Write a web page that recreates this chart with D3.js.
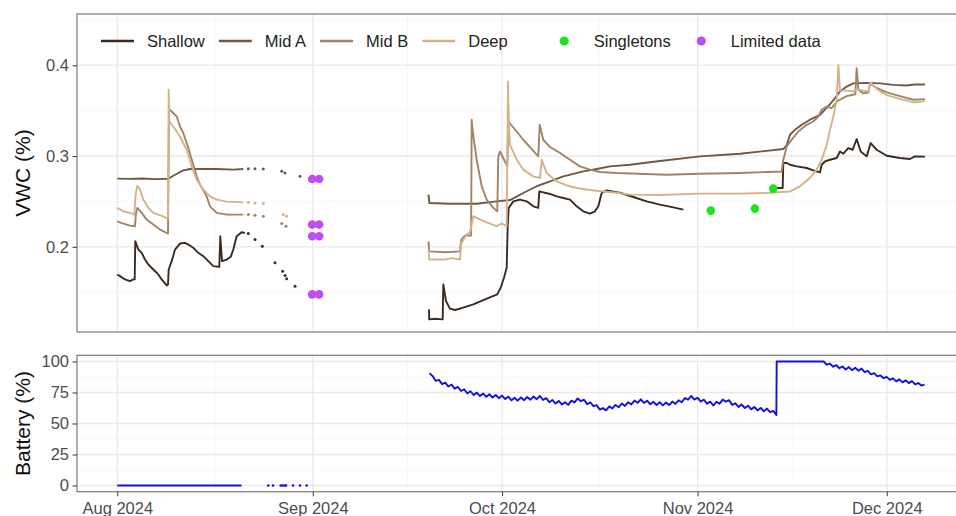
<!DOCTYPE html>
<html>
<head>
<meta charset="utf-8">
<script src="https://cdn.jsdelivr.net/npm/d3@7"></script>
<style>
  body { margin: 0; background: #fff; }
  svg { display: block; }
  text { font-family: "Liberation Sans", Arial, Helvetica, sans-serif; }
</style>
</head>
<body>
<svg id="chart" width="956" height="516"></svg>
<script>
// ---- Data: [day since 2024-08-01, value] ----
const seriesNames = ["Shallow", "Mid A", "Mid B", "Deep"];
const seriesColors = ["#3a2a1f", "#6e5945", "#a08466", "#d3b48a"];
const monthTicks = ["2024-08-01", "2024-09-01", "2024-10-01", "2024-11-01", "2024-12-01"];
const vwcTicks = [0.2, 0.3, 0.4];
const batteryTicks = [0, 25, 50, 75, 100];

const shallowAug = [[0,0.1696],[0.43,0.1677],[1.22,0.1641],[2.01,0.1622],[2.54,0.1641],[2.76,0.1641],[2.85,0.2062],[3.33,0.197],[3.87,0.1934],[4.39,0.186],[4.92,0.1805],[5.71,0.175],[6.5,0.1696],[7.04,0.1641],[7.83,0.1575],[8.04,0.1586],[8.15,0.175],[8.62,0.1842],[9.15,0.197],[9.94,0.2036],[10.73,0.2044],[11.26,0.2025],[12.05,0.1989],[12.84,0.1934],[13.64,0.1897],[14.43,0.1842],[15.22,0.1787],[16.17,0.178],[16.33,0.2117],[16.6,0.1842],[17.35,0.186],[17.98,0.189],[18.39,0.197],[18.93,0.2117],[19.72,0.216],[20.25,0.2154]];
const shallowSparse = [[20.77,0.2146],[21.83,0.208],[22.99,0.2007],[25.0,0.1824],[26.22,0.1732],[26.6,0.1685],[26.85,0.1648],[28.18,0.1567]];
const shallowSep = [[49.42,0.1311],[49.45,0.1201],[50.37,0.1208],[51.59,0.1201],[51.69,0.1586],[52.12,0.1402],[52.75,0.1319],[53.54,0.1304],[54.86,0.133],[56.45,0.1366],[58.03,0.1413],[59.36,0.1451],[60.25,0.1476],[60.79,0.155],[61.31,0.1659],[61.74,0.1769],[61.9,0.2227],[62.06,0.2429],[62.79,0.2501],[63.85,0.252],[64.91,0.2501],[65.96,0.2446],[66.75,0.2429],[66.91,0.2611],[67.54,0.26],[68.61,0.2582],[69.67,0.2556],[70.72,0.2538],[71.78,0.252],[72.84,0.2446],[73.89,0.2391],[74.95,0.2366],[75.74,0.2391],[76.27,0.2446],[76.8,0.2593],[77.6,0.2622],[79.82,0.2593],[81.82,0.2549],[83.94,0.2501],[86.05,0.2465],[88.16,0.2435],[89.74,0.241]];
const shallowNov = [[104.4,0.2648],[105.5,0.2648],[105.6,0.2923],[106.14,0.2923],[106.66,0.2904],[107.72,0.2886],[109.31,0.2868],[110.35,0.2842],[111.42,0.282],[111.68,0.2904],[112.21,0.294],[113,0.2959],[114.06,0.2978],[114.59,0.305],[115.11,0.3025],[115.9,0.3088],[116.6,0.3069],[117.23,0.3187],[117.87,0.305],[118.82,0.2996],[119.45,0.3143],[120.4,0.3069],[121.99,0.3003],[124.1,0.2978],[125.68,0.2967],[126.48,0.2996],[128.06,0.2993]];

const midAAug = [[0,0.2751],[2,0.2748],[4,0.2752],[6,0.2745],[8.09,0.2749],[8.88,0.2783],[9.67,0.2813],[10.46,0.2842],[11.53,0.2857],[13.11,0.2857],[15.76,0.2857],[18.39,0.285],[19.98,0.2857]];
const midASparse = [[20.77,0.2861],[21.83,0.2861],[23.15,0.2857],[26.07,0.2831],[26.59,0.2813],[28.97,0.2776]];
const midASep = [[49.34,0.2575],[49.47,0.2483],[52.75,0.2475],[56.98,0.2475],[60.15,0.25],[62.27,0.2515],[64.37,0.2593],[66.5,0.2667],[68.61,0.272],[70.72,0.2776],[73.89,0.2831],[76.01,0.2857],[78.12,0.2886],[81.29,0.2904],[86.05,0.2945],[92.39,0.2996],[98.73,0.3025],[105.6,0.3077],[106.14,0.312],[106.66,0.3234],[107.46,0.329],[108.52,0.3344],[109.83,0.34],[111.42,0.3454],[112.21,0.351],[113,0.357],[113.79,0.3637],[114.59,0.371],[115.65,0.3765],[116.7,0.38],[118.82,0.3805],[120.93,0.38],[123.04,0.3783],[125.16,0.3776],[126.48,0.3787],[128.06,0.3787]];

const midBAug = [[0,0.2281],[0.6,0.2264],[2.01,0.2234],[2.8,0.2227],[2.97,0.2374],[3.17,0.2429],[3.87,0.2374],[4.66,0.23],[5.71,0.2245],[6.77,0.219],[7.83,0.2154],[8.04,0.2147],[8.2,0.3516],[8.62,0.349],[9.42,0.3435],[9.94,0.3325],[10.46,0.3253],[11.26,0.3088],[12.05,0.2904],[12.59,0.2776],[13.11,0.2685],[14.17,0.2556],[14.7,0.2446],[15.76,0.2374],[17.35,0.2355],[19.98,0.2355]];
const midBSparse = [[20.77,0.2355],[21.83,0.2347],[23.15,0.2336],[26.07,0.2256],[26.75,0.2226]];
const midBSep = [[49.34,0.206],[49.47,0.195],[51.96,0.194],[54.34,0.195],[54.54,0.208],[55.13,0.2124],[56.1,0.2124],[56.19,0.3399],[56.35,0.327],[56.98,0.2959],[57.78,0.2666],[58.57,0.252],[59.62,0.2429],[60.25,0.2391],[60.41,0.2996],[60.68,0.305],[61.2,0.2978],[61.84,0.2886],[62.0,0.338],[63.33,0.327],[64.37,0.3179],[65.44,0.3099],[66.75,0.2996],[66.97,0.3344],[67.54,0.3179],[68.61,0.3099],[70.19,0.3033],[71.78,0.2959],[73.36,0.2886],[74.95,0.285],[76.54,0.2824],[79.18,0.2813],[87.11,0.2794],[92.39,0.2805],[98.73,0.2813],[105.35,0.283],[105.6,0.2959],[106.14,0.3106],[106.93,0.318],[107.98,0.327],[109.31,0.3344],[110.35,0.338],[111.15,0.3435],[111.68,0.351],[112.48,0.3545],[113.27,0.3527],[114.06,0.36],[115.65,0.366],[117.02,0.368],[117.23,0.3967],[117.5,0.373],[118.29,0.369],[119.08,0.37],[119.35,0.38],[120.4,0.375],[121.99,0.37],[124.1,0.366],[126.21,0.362],[128.06,0.3626]];

const deepAug = [[0,0.2429],[0.95,0.2392],[2.01,0.2374],[2.7,0.2355],[2.91,0.2575],[3.17,0.2674],[3.6,0.263],[4.12,0.252],[4.92,0.2429],[5.71,0.2374],[6.5,0.2355],[7.29,0.2336],[8.04,0.2308],[8.15,0.3729],[8.25,0.338],[8.88,0.3325],[9.94,0.3215],[11.0,0.3069],[11.8,0.2886],[12.59,0.274],[13.64,0.263],[14.7,0.2556],[15.76,0.252],[17.35,0.2498],[19.98,0.249]];
const deepSparse = [[20.77,0.249],[21.83,0.2483],[23.15,0.2476],[26.32,0.2355],[26.85,0.2336]];
const deepSep = [[49.34,0.197],[49.47,0.186],[51.96,0.186],[53.07,0.1875],[54.34,0.186],[54.54,0.204],[55.4,0.2135],[55.92,0.216],[56.45,0.2337],[56.98,0.232],[58.57,0.227],[60.15,0.2227],[60.94,0.2259],[61.74,0.2227],[61.95,0.382],[62.11,0.33],[62.27,0.3124],[63.33,0.296],[64.37,0.285],[65.96,0.2776],[67.02,0.2758],[67.29,0.296],[68.08,0.2813],[69.67,0.272],[71.25,0.2676],[72.84,0.2648],[74.95,0.2626],[77.06,0.261],[79.18,0.2595],[81.29,0.2575],[86.05,0.257],[92.39,0.2586],[98.73,0.2586],[103.5,0.2595],[106.66,0.261],[108.24,0.2666],[109.83,0.2758],[110.89,0.285],[111.68,0.296],[112.48,0.312],[113.0,0.329],[113.53,0.3435],[114.06,0.362],[114.33,0.4003],[114.59,0.372],[115.65,0.372],[116.7,0.371],[117.23,0.374],[118.29,0.372],[119.08,0.371],[119.4,0.381],[120.4,0.374],[121.99,0.367],[124.1,0.363],[126.21,0.359],[128.06,0.3605]];

const limitedData = [[30.9,0.2747],[32.0,0.2747],[30.9,0.2245],[32.0,0.2245],[30.9,0.2117],[32.0,0.2117],[30.9,0.1476],[32.0,0.1476]];
const singletons = [[94.1,0.2399],[101.1,0.2421],[104.0,0.2641]];

const batteryAug = [[0,0],[19.7,0]];
const batterySparse = [[23.94,0],[24.69,0],[25.91,0],[26.2,0],[26.5,0],[26.75,0],[27.86,0],[28.97,0],[30.03,0]];
const batteryStartDay = 49.5; // half-day readings from here
const batteryHalfDaily = [90.5,88.2,84.3,85.2,81.8,83.0,79.8,81.4,78.1,79.5,76.2,77.6,74.3,76.0,73.0,74.9,72.1,74.2,71.5,73.6,70.9,73.0,70.4,72.5,69.7,71.6,68.7,70.7,68.4,71.0,68.8,71.4,69.2,71.8,69.6,72.2,69.0,70.4,67.2,68.9,66.1,68.2,65.3,67.2,65.0,68.4,67.0,70.2,68.0,69.2,65.6,67.0,64.0,64.8,61.2,62.4,60.6,63.8,62.1,65.0,63.1,66.1,64.2,67.2,65.4,68.5,66.7,69.5,66.6,68.4,65.5,67.5,64.9,67.2,64.6,66.9,64.9,67.7,65.8,68.7,67.1,70.5,69.2,72.2,69.3,70.8,67.7,69.2,66.0,67.6,64.5,67.5,66.0,69.3,67.6,68.8,65.0,66.3,63.4,65.3,62.5,64.4,61.4,63.3,60.5,62.6,59.9,62.0,59.1,60.2,56.9];
const batteryNov = [[104.55,100],[112,100],[112.5,97.4],[113,98.3],[113.5,95.8],[114,97.0],[114.5,94.6],[115,96.0],[115.5,93.5],[116,95.5],[116.5,93.0],[117,95.0],[117.5,92.6],[118,94.3],[118.5,91.5],[119,92.5],[119.5,89.6],[120,90.6],[120.5,88.0],[121,88.8],[121.5,86.5],[122,87.6],[122.5,85.2],[123,86.4],[123.5,84.0],[124,85.6],[124.5,83.2],[125,84.8],[125.5,82.6],[126,84.2],[126.5,81.5],[127,82.6],[127.5,80.6],[128,81.3]];

// ---- Layout ----
const svg = d3.select("#chart");
const W = 956, H = 516;
const left = 77, right = 964;
const top1 = 14, bottom1 = 332;
const top2 = 355.3, bottom2 = 491.7;

const t0 = Date.UTC(2024, 7, 1);
const toDate = d => new Date(t0 + d * 864e5);
const x = d3.scaleUtc().domain([toDate(-6.39), toDate(134.25)]).range([left, right]);
const yV = d3.scaleLinear().domain([0.1062, 0.4564]).range([bottom1, top1]);
const yB = d3.scaleLinear().domain([-5, 105]).range([bottom2, top2]);

const months = monthTicks.map(s => new Date(s + "T00:00:00Z"));
const minorX = [];
for (let i = 0; i < months.length - 1; i++) {
  minorX.push(new Date((+months[i] + +months[i + 1]) / 2));
}

const gridMajor = "#e9e9e9", gridMinor = "#f4f4f4", borderCol = "#7a7a7a";

svg.append("rect").attr("width", W).attr("height", H).attr("fill", "#fff");

const defs = svg.append("defs");
defs.append("clipPath").attr("id", "clipTop").append("rect")
  .attr("x", left).attr("y", top1).attr("width", right - left).attr("height", bottom1 - top1);
defs.append("clipPath").attr("id", "clipBot").append("rect")
  .attr("x", left).attr("y", top2).attr("width", right - left).attr("height", bottom2 - top2);

function drawGrid(g, y, majorY, minorY, y0, y1) {
  g.selectAll(".hmin").data(minorY).join("line")
    .attr("x1", left).attr("x2", right)
    .attr("y1", d => y(d)).attr("y2", d => y(d))
    .attr("stroke", gridMinor).attr("stroke-width", 0.7);
  g.selectAll(".vmin").data(minorX).join("line")
    .attr("x1", d => x(d)).attr("x2", d => x(d))
    .attr("y1", y0).attr("y2", y1)
    .attr("stroke", gridMinor).attr("stroke-width", 0.7);
  g.selectAll(".hmaj").data(majorY).join("line")
    .attr("x1", left).attr("x2", right)
    .attr("y1", d => y(d)).attr("y2", d => y(d))
    .attr("stroke", gridMajor).attr("stroke-width", 1.3);
  g.selectAll(".vmaj").data(months).join("line")
    .attr("x1", d => x(d)).attr("x2", d => x(d))
    .attr("y1", y0).attr("y2", y1)
    .attr("stroke", gridMajor).attr("stroke-width", 1.3);
}

// ---- Top panel: soil moisture ----
const gTop = svg.append("g");
drawGrid(gTop.append("g"), yV, vwcTicks, [0.15, 0.25, 0.35, 0.45], top1, bottom1);

const plotTop = gTop.append("g").attr("clip-path", "url(#clipTop)");
const lineV = d3.line().x(d => x(toDate(d[0]))).y(d => yV(d[1]));

const vwcSeries = [
  { segs: [shallowAug, shallowSep, shallowNov], sparse: shallowSparse },
  { segs: [midAAug, midASep], sparse: midASparse },
  { segs: [midBAug, midBSep], sparse: midBSparse },
  { segs: [deepAug, deepSep], sparse: deepSparse }
];
vwcSeries.forEach((s, i) => {
  s.segs.forEach(seg => {
    plotTop.append("path").datum(seg).attr("d", lineV)
      .attr("fill", "none").attr("stroke", seriesColors[i])
      .attr("stroke-width", 1.9).attr("stroke-linejoin", "round");
  });
  plotTop.selectAll(null).data(s.sparse).join("circle")
    .attr("cx", d => x(toDate(d[0]))).attr("cy", d => yV(d[1]))
    .attr("r", 1.5).attr("fill", seriesColors[i]);
});

plotTop.selectAll(".lim").data(limitedData).join("circle")
  .attr("cx", d => x(toDate(d[0]))).attr("cy", d => yV(d[1]))
  .attr("r", 4.3).attr("fill", "#bf4df2");
plotTop.selectAll(".sgl").data(singletons).join("circle")
  .attr("cx", d => x(toDate(d[0]))).attr("cy", d => yV(d[1]))
  .attr("r", 4.3).attr("fill", "#1de41d");

gTop.append("rect").attr("x", left).attr("y", top1)
  .attr("width", right - left).attr("height", bottom1 - top1)
  .attr("fill", "none").attr("stroke", borderCol).attr("stroke-width", 1.2);

// ---- Bottom panel: battery ----
const gBot = svg.append("g");
drawGrid(gBot.append("g"), yB, batteryTicks, [12.5, 37.5, 62.5, 87.5], top2, bottom2);
const plotBot = gBot.append("g").attr("clip-path", "url(#clipBot)");
const lineB = d3.line().x(d => x(toDate(d[0]))).y(d => yB(d[1]));
const batteryOct = batteryHalfDaily.map((v, i) => [batteryStartDay + i * 0.5, v]);
[batteryAug, batteryOct.concat(batteryNov)].forEach(seg => {
  plotBot.append("path").datum(seg).attr("d", lineB)
    .attr("fill", "none").attr("stroke", "#1212dc")
    .attr("stroke-width", 1.9).attr("stroke-linejoin", "round");
});
plotBot.selectAll(".bs").data(batterySparse).join("circle")
  .attr("cx", d => x(toDate(d[0]))).attr("cy", d => yB(d[1]))
  .attr("r", 1.3).attr("fill", "#1212dc");

gBot.append("rect").attr("x", left).attr("y", top2)
  .attr("width", right - left).attr("height", bottom2 - top2)
  .attr("fill", "none").attr("stroke", borderCol).attr("stroke-width", 1.2);

// ---- Axes ----
function styleAxis(g) {
  g.select(".domain").remove();
  g.selectAll(".tick line").attr("stroke", "#444").attr("stroke-width", 1.1);
  g.selectAll(".tick text").attr("fill", "#4d4d4d").style("font-size", "16.5px");
}
svg.append("g").attr("transform", `translate(${left},0)`)
  .call(d3.axisLeft(yV).tickValues(vwcTicks).tickFormat(d3.format(".1f")).tickSize(4.5).tickPadding(3.5))
  .call(styleAxis);
svg.append("g").attr("transform", `translate(${left},0)`)
  .call(d3.axisLeft(yB).tickValues(batteryTicks).tickSize(4.5).tickPadding(3.5))
  .call(styleAxis);
svg.append("g").attr("transform", `translate(0,${bottom2})`)
  .call(d3.axisBottom(x).tickValues(months).tickFormat(d3.utcFormat("%b %Y")).tickSize(4.5).tickPadding(6.5))
  .call(styleAxis);

// ---- Axis titles ----
svg.append("text").attr("transform", `translate(23,${(top1 + bottom1) / 2}) rotate(-90)`)
  .attr("text-anchor", "middle").attr("dy", "0.35em")
  .style("font-size", "21px").attr("fill", "#111").text("VWC (%)");
svg.append("text").attr("transform", `translate(23,${(top2 + bottom2) / 2}) rotate(-90)`)
  .attr("text-anchor", "middle").attr("dy", "0.35em")
  .style("font-size", "21px").attr("fill", "#111").text("Battery (%)");

// ---- Legend ----
const legY = 41;
const leg = svg.append("g");
let cx = 101;
function legendItem(label, color, kind) {
  if (kind === "line") {
    leg.append("line").attr("x1", cx).attr("x2", cx + 33).attr("y1", legY).attr("y2", legY)
      .attr("stroke", color).attr("stroke-width", 2.6);
  } else {
    leg.append("circle").attr("cx", cx + 16.5).attr("cy", legY).attr("r", 4.6).attr("fill", color);
  }
  const t = leg.append("text").attr("x", cx + 46).attr("y", legY).attr("dy", "0.36em")
    .style("font-size", "16.5px").attr("fill", "#222").text(label);
  cx = cx + 46 + t.node().getComputedTextLength() + 14;
}
seriesNames.forEach((n, i) => legendItem(n, seriesColors[i], "line"));
cx += 26;
legendItem("Singletons", "#1de41d", "dot");
legendItem("Limited data", "#bf4df2", "dot");
</script>
</body>
</html>
